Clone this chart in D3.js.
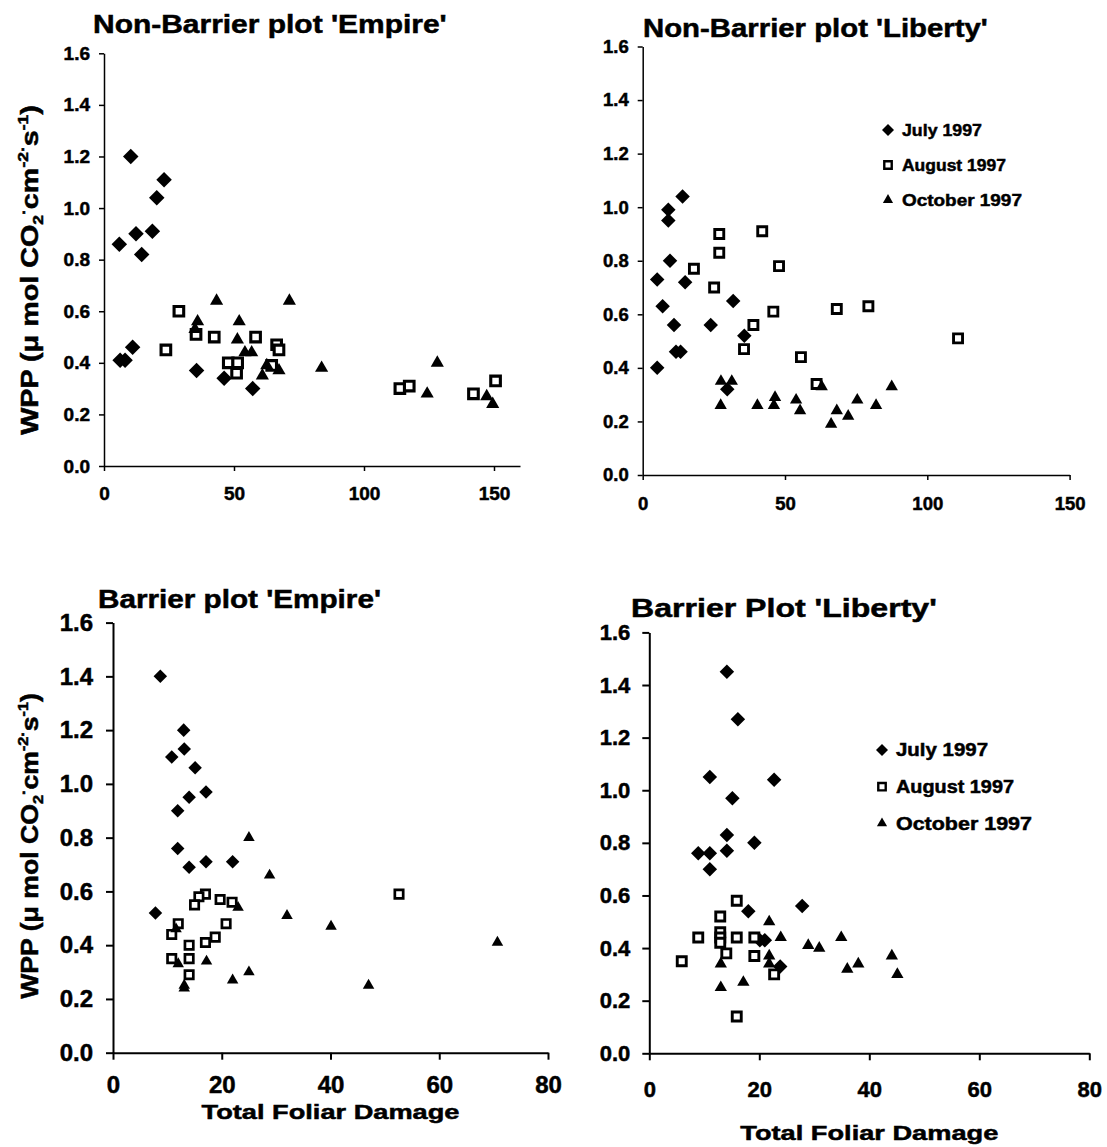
<!DOCTYPE html>
<meta charset="utf-8">
<style>
body { margin: 0; background: #fff; }
svg text {
  font-family: "Liberation Sans", Arial, sans-serif;
  font-weight: bold;
  fill: #000;
  stroke: #000;
  stroke-width: 0.5px;
}
.axis path, .axis line { stroke: #000; }
</style>
<svg width="1107" height="1147"></svg>
<script src="https://cdn.jsdelivr.net/npm/d3@7/dist/d3.min.js"></script>
<script>
// values: [total foliar damage, WPP]
var nbEmpireJuly = [[10.3,1.20],[23.1,1.11],[20.3,1.04],[12.3,0.90],[18.6,0.91],[5.9,0.86],[14.5,0.82],
  [6.2,0.41],[8.1,0.41],[11.0,0.46],[35.6,0.37],[46.2,0.34],[57.2,0.30]];
var nbEmpireAug = [[28.8,0.60],[23.8,0.45],[35.4,0.51],[42.4,0.50],[58.3,0.50],[66.4,0.47],[67.3,0.45],
  [47.8,0.40],[51.4,0.40],[51.0,0.36],[64.5,0.39],[113.8,0.30],[117.4,0.31],[142.1,0.28],[150.6,0.33]];
var nbEmpireOct = [[43.3,0.64],[71.3,0.64],[36.0,0.56],[35.0,0.53],[52.0,0.56],[51.3,0.49],[54.2,0.44],[56.8,0.44],
  [62.6,0.39],[60.9,0.35],[67.3,0.37],[83.7,0.38],[128.2,0.40],[124.3,0.28],[147.2,0.27],[149.5,0.24]];

var nbLibertyJuly = [[14.0,1.04],[9.0,0.99],[9.0,0.95],[9.6,0.80],[5.1,0.73],[14.9,0.72],[7.0,0.63],[11.0,0.56],
  [23.9,0.56],[31.8,0.65],[35.7,0.52],[11.7,0.46],[13.3,0.46],[5.1,0.40],[29.7,0.32]];
var nbLibertyAug = [[26.9,0.90],[42.0,0.91],[26.9,0.83],[18.0,0.77],[47.9,0.78],[25.1,0.70],[45.9,0.61],
  [38.9,0.56],[35.6,0.47],[68.2,0.62],[79.3,0.63],[55.6,0.44],[61.1,0.34],[110.8,0.51]];
var nbLibertyOct = [[27.5,0.35],[31.3,0.35],[27.4,0.26],[40.3,0.26],[46.5,0.29],[46.1,0.26],[53.9,0.28],[55.3,0.24],
  [62.9,0.33],[66.2,0.19],[68.2,0.24],[72.2,0.22],[75.4,0.28],[82.0,0.26],[87.5,0.33]];

var bEmpireJuly = [[8.7,1.40],[13.0,1.20],[13.1,1.13],[10.8,1.10],[15.1,1.06],[17.1,0.97],[14.0,0.95],[11.9,0.90],
  [11.9,0.76],[14.0,0.69],[17.1,0.71],[22.0,0.71],[7.8,0.52]];
var bEmpireAug = [[17.0,0.59],[15.8,0.58],[15.0,0.55],[19.7,0.57],[21.9,0.56],[20.8,0.48],[18.8,0.43],[17.0,0.41],
  [12.0,0.48],[10.8,0.44],[14.0,0.40],[10.8,0.35],[14.0,0.35],[14.0,0.29],[52.6,0.59]];
var bEmpireOct = [[25.0,0.80],[28.8,0.66],[23.0,0.54],[32.0,0.51],[40.1,0.47],[47.0,0.25],[70.7,0.41],[17.2,0.34],
  [25.0,0.30],[22.0,0.27],[12.0,0.33],[13.1,0.24],[13.1,0.25],[11.6,0.46]];

var bLibertyJuly = [[14.1,1.45],[16.1,1.27],[11.0,1.05],[22.7,1.04],[15.1,0.97],[14.1,0.83],[19.1,0.80],[8.9,0.76],
  [11.0,0.76],[14.1,0.77],[11.0,0.70],[18.0,0.54],[27.8,0.56],[20.1,0.43],[21.0,0.43],[23.8,0.33]];
var bLibertyAug = [[15.9,0.58],[12.9,0.52],[12.9,0.46],[12.9,0.44],[12.9,0.42],[8.9,0.44],[15.9,0.44],[19.1,0.44],
  [14.0,0.38],[19.1,0.37],[5.9,0.35],[22.7,0.30],[15.9,0.14]];
var bLibertyOct = [[21.8,0.50],[23.9,0.44],[28.9,0.41],[30.9,0.40],[34.9,0.44],[38.0,0.34],[36.0,0.32],[44.1,0.37],
  [45.1,0.30],[21.8,0.37],[21.8,0.34],[13.0,0.34],[13.0,0.25],[17.1,0.27]];

var yTicks = [0, 0.2, 0.4, 0.6, 0.8, 1.0, 1.2, 1.4, 1.6];
var seriesNames = ["July 1997", "August 1997", "October 1997"];

// layout of the four panels
var panels = [
  {title: "Non-Barrier plot 'Empire'", data: [nbEmpireJuly, nbEmpireAug, nbEmpireOct],
   xMax: 160, xTicks: [0, 50, 100, 150], left: 104, right: 520, top: 53.3, bottom: 466,
   titleX: 93, titleY: 33, titleW: 354, tickFont: 19, tick: 5, yPad: 9, xPad: 16, stroke: 1.5, mk: 15.5,
   yTitle: {x: 30, y: 270, w: 330}},
  {title: "Non-Barrier plot 'Liberty'", data: [nbLibertyJuly, nbLibertyAug, nbLibertyOct],
   xMax: 150, xTicks: [0, 50, 100, 150], left: 642.7, right: 1069.6, top: 46.5, bottom: 475,
   titleX: 643, titleY: 37, titleW: 345, tickFont: 18.5, tick: 5, yPad: 9, xPad: 17, stroke: 1.5, mk: 14.5,
   legend: {x: 888, tx: 902, y: 130, dy: 35, font: 17, w: [80, 104, 120]}},
  {title: "Barrier plot 'Empire'", data: [bEmpireJuly, bEmpireAug, bEmpireOct],
   xMax: 80, xTicks: [0, 20, 40, 60, 80], left: 113, right: 548, top: 622.6, bottom: 1052.7,
   titleX: 98, titleY: 608, titleW: 283, tickFont: 24, tick: 7, yPad: 13, xPad: 16, stroke: 2, mk: 13.5,
   yTitle: {x: 30, y: 846, w: 306}, xTitle: {y: 1119, w: 258}},
  {title: "Barrier Plot 'Liberty'", data: [bLibertyJuly, bLibertyAug, bLibertyOct],
   xMax: 80, xTicks: [0, 20, 40, 60, 80], left: 649.3, right: 1089.3, top: 632.4, bottom: 1053.3,
   titleX: 631, titleY: 617, titleW: 306, tickFont: 22, tick: 7, yPad: 12, xPad: 21, stroke: 2, mk: 14.5,
   legend: {x: 882, tx: 896, y: 750, dy: 36.7, font: 18, w: [92, 118, 136]},
   xTitle: {y: 1140, w: 258}}
];

var svg = d3.select("svg");

// stretch a text element along its own x direction to the measured width
function fitWidth(sel, w) {
  var node = sel.node();
  var cur = node.getBBox().width;
  var base = sel.attr("transform") || "";
  sel.attr("transform", base + " scale(" + (w / cur) + ",1)");
}

function marker(g, kind, cx, cy, s) {
  if (kind === 0) {
    var side = s / Math.SQRT2;
    g.append("path")
      .attr("d", d3.symbol(d3.symbolSquare, side * side)())
      .attr("transform", "translate(" + cx + "," + cy + ") rotate(45)")
      .attr("fill", "#000");
  } else if (kind === 1) {
    var sq = s * 0.62;
    g.append("path")
      .attr("d", d3.symbol(d3.symbolSquare, sq * sq)())
      .attr("transform", "translate(" + cx + "," + cy + ")")
      .attr("fill", "#fff")
      .attr("stroke", "#000")
      .attr("stroke-width", s * 0.2);
  } else {
    var b = s * 0.85;
    g.append("path")
      .attr("d", d3.symbol(d3.symbolTriangle, Math.sqrt(3) / 4 * b * b)())
      .attr("transform", "translate(" + cx + "," + cy + ")")
      .attr("fill", "#000");
  }
}

panels.forEach(function(p) {
  var x = d3.scaleLinear().domain([0, p.xMax]).range([p.left, p.right]);
  var y = d3.scaleLinear().domain([0, 1.6]).range([p.bottom, p.top]);
  var g = svg.append("g");

  var ya = g.append("g")
      .attr("class", "axis")
      .attr("transform", "translate(" + p.left + ",0)")
      .call(d3.axisLeft(y).tickValues(yTicks).tickFormat(d3.format(".1f"))
        .tickSize(p.tick).tickSizeOuter(0).tickPadding(p.yPad));
  var xa = g.append("g")
      .attr("class", "axis")
      .attr("transform", "translate(0," + p.bottom + ")")
      .call(d3.axisBottom(x).tickValues(p.xTicks).tickFormat(d3.format("d"))
        .tickSize(p.tick).tickSizeOuter(0).tickPadding(p.xPad));
  [ya, xa].forEach(function(a) {
    a.selectAll("path, line").attr("stroke-width", p.stroke);
    a.selectAll("text").style("font-size", p.tickFont + "px")
      .style("font-family", "'Liberation Sans', Arial, sans-serif").style("font-weight", "bold");
  });

  var t = g.append("text")
      .attr("transform", "translate(" + p.titleX + "," + p.titleY + ")")
      .style("font-size", "25px")
      .text(p.title);
  fitWidth(t, p.titleW);

  var marks = g.append("g");
  p.data.forEach(function(series, k) {
    series.forEach(function(d) {
      marker(marks, k, x(d[0]), y(d[1]), p.mk);
    });
  });

  if (p.legend) {
    var L = p.legend;
    seriesNames.forEach(function(name, k) {
      var ly = L.y + k * L.dy;
      marker(g, k, L.x, ly, 12);
      var lt = g.append("text")
          .attr("transform", "translate(" + L.tx + "," + (ly + L.font * 0.36) + ")")
          .style("font-size", L.font + "px")
          .text(name);
      fitWidth(lt, L.w[k]);
    });
  }

  if (p.yTitle) {
    var Y = p.yTitle;
    var yt = g.append("text")
        .attr("text-anchor", "middle")
        .attr("transform", "translate(" + (Y.x + 8) + "," + Y.y + ") rotate(-90)")
        .style("font-size", "23px");
    yt.append("tspan").text("WPP (\u03bc mol CO");
    yt.append("tspan").attr("dy", 5).style("font-size", "14px").text("2");
    yt.append("tspan").attr("dy", -14).style("font-size", "14px").text("\u00b7");
    yt.append("tspan").attr("dy", 9).text("cm");
    yt.append("tspan").attr("dy", -10).style("font-size", "14px").text("-2");
    yt.append("tspan").style("font-size", "14px").text("\u00b7");
    yt.append("tspan").attr("dy", 10).text("s");
    yt.append("tspan").attr("dy", -10).style("font-size", "14px").text("-1");
    yt.append("tspan").attr("dy", 10).text(")");
    fitWidth(yt, Y.w);
  }

  if (p.xTitle) {
    var xt = g.append("text")
        .attr("text-anchor", "middle")
        .attr("transform", "translate(" + ((p.left + p.right) / 2) + "," + p.xTitle.y + ")")
        .style("font-size", "21px")
        .text("Total Foliar Damage");
    fitWidth(xt, p.xTitle.w);
  }
});
</script>
